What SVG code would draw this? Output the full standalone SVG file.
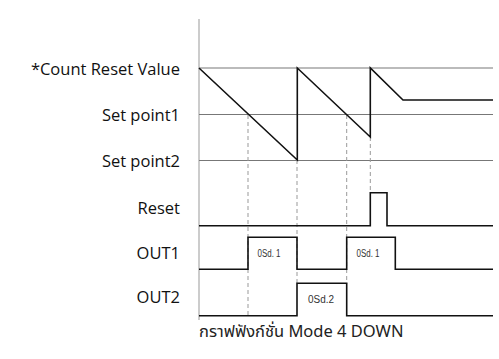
<svg xmlns="http://www.w3.org/2000/svg" width="499" height="359" viewBox="0 0 499 359">
<style>
.lbl{font-family:"Open Sans","Liberation Sans",sans-serif;font-size:16.5px;fill:#111;text-anchor:end}
.ref{stroke:#777;stroke-width:1;fill:none}
.top{stroke:#bbb;stroke-width:2;fill:none}
.sig{stroke:#111;stroke-width:1.6;fill:none;stroke-linejoin:miter}
.dash{stroke:#999;stroke-width:1;stroke-dasharray:4,3;fill:none}
.osd{font-family:"Liberation Sans",sans-serif;font-size:10px;fill:#333}
.cap{font-family:"Noto Sans","Noto Sans Thai","DejaVu Sans",sans-serif;font-size:16.5px;fill:#222}
</style>
<rect width="499" height="359" fill="#fff"/>
<g id="axis">
<line x1="199" y1="19" x2="199" y2="320" stroke="#999" stroke-width="1"/>
</g>
<g id="labels">
<text class="lbl" x="180" y="75">*Count Reset Value</text>
<text class="lbl" x="180" y="121">Set point1</text>
<text class="lbl" x="180" y="167">Set point2</text>
<text class="lbl" x="180" y="214">Reset</text>
<text class="lbl" x="180" y="259">OUT1</text>
<text class="lbl" x="180" y="303">OUT2</text>
</g>
<g id="reference-lines">
<line class="top" x1="199" y1="68" x2="493" y2="68"/>
<line class="ref" x1="199" y1="114.5" x2="493" y2="114.5"/>
<line class="ref" x1="199" y1="160.5" x2="493" y2="160.5"/>
</g>
<g id="connectors">
<line class="dash" x1="248" y1="115" x2="248" y2="316"/>
<line class="dash" x1="297" y1="160" x2="297" y2="284"/>
<line class="dash" x1="346.7" y1="115" x2="346.7" y2="284"/>
<line class="dash" x1="370.3" y1="137" x2="370.3" y2="193"/>
</g>
<g id="counter">
<polyline class="sig" points="199,68 297.3,160 297.3,68 370.3,137 370.3,68 403,100 493,100"/>
</g>
<g id="reset">
<polyline class="sig" points="199,225.7 370.3,225.7 370.3,192.7 387,192.7 387,225.7 493,225.7"/>
</g>
<g id="out1">
<polyline class="sig" points="199,269.3 248,269.3 248,237.3 297,237.3 297,269.3 346.7,269.3 346.7,237.3 395.3,237.3 395.3,269.3 493,269.3"/>
<text class="osd" x="257.5" y="257" textLength="23" lengthAdjust="spacingAndGlyphs">0Sd. 1</text>
<text class="osd" x="356.5" y="257" textLength="23" lengthAdjust="spacingAndGlyphs">0Sd. 1</text>
</g>
<g id="out2">
<polyline class="sig" points="199,315.7 297,315.7 297,283.3 346.7,283.3 346.7,315.7 493,315.7"/>
<text class="osd" x="308" y="303" textLength="26" lengthAdjust="spacingAndGlyphs">0Sd.2</text>
</g>
<g id="caption">
<text class="cap" x="199" y="337">กราฟฟังก์ชั่น Mode 4 DOWN</text>
</g>
</svg>
